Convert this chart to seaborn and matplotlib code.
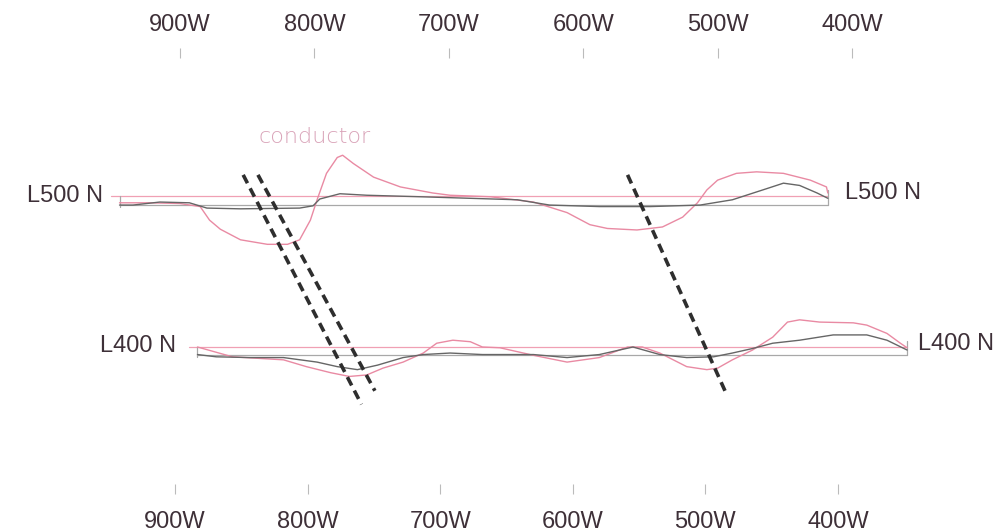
import numpy as np
import pandas as pd
import seaborn as sns
import matplotlib.pyplot as plt

sns.set_style('white')
plt.rcParams['font.family'] = ['Liberation Sans', 'DejaVu Sans']

# survey stations (W) and their labels
stations = [900, 800, 700, 600, 500, 400]
station_labels = ['900W', '800W', '700W', '600W', '500W', '400W']

# survey lines
line_names = ['L500 N', 'L400 N']
line_north = [500, 400]
line_start = [945, 887]
line_end = [418, 359]
quad_zero = [-6, -5]

# L500 N profile (in-phase = pink, quadrature = dark)
l500_ip_w = [945, 922, 900, 885, 878, 870, 855, 835, 820, 811, 803, 798, 791, 783, 779, 771,
             756, 736, 712, 699, 669, 637, 612, 595, 582, 560, 541, 526, 515, 508, 500, 486,
             471, 451, 431, 419, 418]
l500_ip = [-4.5, -4.5, -5, -7, -16, -22, -29, -32, -32, -29, -16, -2.5, 15, 25.5, 27, 21.5,
           12.5, 6, 2, 0.5, -0.5, -4, -11, -19, -21.5, -22.5, -20.5, -14, -4.5, 4, 10.5, 15,
           16, 15, 10.5, 6, 2]
l500_qd_w = [945, 935, 915, 893, 880, 855, 811, 801, 796, 781, 761, 721, 649, 625, 588, 550,
             513, 489, 463, 451, 439, 426, 418]
l500_qd = [-6, -6, -4, -4.5, -8, -8.5, -8, -6.5, -2, 1.5, 0.5, -0.5, -2.5, -6, -7, -7,
           -6, -2.5, 5, 8.5, 7, 2, -1.5]

# L400 N profile
l400_ip_w = [887, 873, 861, 823, 806, 788, 774, 761, 749, 734, 719, 709, 697, 684, 675, 662,
             637, 612, 588, 567, 556, 543, 523, 508, 500, 489, 474, 459, 448, 439, 424, 399,
             389, 374, 364, 359]
l400_ip = [0, -3.5, -6.5, -8.5, -13, -17, -19.5, -18.5, -14, -10, -4, 2.5, 4.5, 3.5, 0, -0.5,
           -5.5, -10, -7, 0, 0, -4, -13, -15, -14, -8.5, -2, 6.5, 16.5, 18, 16.5, 16,
           14.5, 9, 2.5, -0.5]
l400_qd_w = [887, 873, 848, 823, 798, 783, 768, 753, 734, 719, 699, 675, 637, 612, 588, 563,
             543, 523, 503, 489, 474, 459, 439, 414, 389, 374, 359]
l400_qd = [-5, -6.5, -7, -7, -10, -13, -15, -12, -7, -5, -4, -5, -5, -7, -5, 0,
           -5, -7, -6.5, -4, -1, 2.5, 4.5, 8, 8, 4.5, -2]

# conductor axes (dashed)
cond_top_w = [853, 842, 567]
cond_top_y = [514, 514, 514]
cond_bot_w = [765, 755, 494]
cond_bot_y = [362, 371, 370]

profiles = {
    ('L500 N', 'inphase'): (l500_ip_w, l500_ip),
    ('L500 N', 'quad'): (l500_qd_w, l500_qd),
    ('L400 N', 'inphase'): (l400_ip_w, l400_ip),
    ('L400 N', 'quad'): (l400_qd_w, l400_qd),
}
rows = []
for (name, trace), (w, v) in profiles.items():
    north = line_north[line_names.index(name)]
    for wi, vi in zip(w, v):
        rows.append({'line': name, 'trace': trace, 'station': wi, 'y': north + vi})
df = pd.DataFrame(rows)

fig = plt.figure(figsize=(10.05, 5.31), dpi=100)
ax = fig.add_axes([0, 37 / 531, 1, 446 / 531])

pink = '#e98aa3'
dark = '#666666'
grey = '#a8a8a8'

# baseline boxes
for name, n, s, e, q in zip(line_names, line_north, line_start, line_end, quad_zero):
    ax.plot([s + 6, e], [n, n], color='#f0a0b4', lw=0.9)
    ax.plot([s, e], [n + q, n + q], color=grey, lw=0.9)
    ax.plot([s, s], [n, n + q - 1.5], color=grey, lw=0.9)
    ax.plot([e, e], [n + 4, n + q], color=grey, lw=0.9)

sns.lineplot(data=df, x='station', y='y', hue='trace', units='line', estimator=None,
             sort=False, palette={'inphase': pink, 'quad': dark}, legend=False,
             lw=1.0, ax=ax)

for tw, ty, bw, by in zip(cond_top_w, cond_top_y, cond_bot_w, cond_bot_y):
    ax.plot([tw, bw], [ty, by], color='#2e2e2e', lw=2.6, dashes=(2.6, 1.6),
            solid_capstyle='butt', dash_capstyle='butt')

ax.set_xlim(900 + 180 / 1.344, 900 - 825 / 1.344)
ax.set_ylim(500 - 298 / 1.51, 500 + 148 / 1.51)
ax.set_xlabel('')
ax.set_ylabel('')
ax.set_yticks([])
for sp in ax.spines.values():
    sp.set_visible(False)

lab_col = '#3e3038'
ax.xaxis.tick_top()
ax.set_xticks(stations, station_labels)
ax.tick_params(axis='x', direction='in', length=7, width=0.8, color='#bbbbbb',
               pad=9, labelsize=17, labelcolor=lab_col)


def fwd(w):
    w = np.asarray(w, dtype=float)
    return 900 - (5 + 1.344 * (900 - w)) / 1.326


def inv(w):
    w = np.asarray(w, dtype=float)
    return 900 - (1.326 * (900 - w) - 5) / 1.344


sec = ax.secondary_xaxis('bottom', functions=(fwd, inv))
sec.set_xticks(stations, station_labels)
sec.tick_params(axis='x', direction='in', length=7, width=0.8, color='#bbbbbb',
                pad=12, labelsize=17, labelcolor=lab_col)
for sp in sec.spines.values():
    sp.set_visible(False)

# line labels
ax.text(957, 500, 'L500 N', ha='right', va='center', fontsize=17, color=lab_col)
ax.text(405, 502, 'L500 N', ha='left', va='center', fontsize=17, color=lab_col)
ax.text(903, 400.5, 'L400 N', ha='right', va='center', fontsize=17, color=lab_col)
ax.text(351, 402, 'L400 N', ha='left', va='center', fontsize=17, color=lab_col, clip_on=False)
ax.text(800, 539, 'conductor', ha='center', va='center',
        fontsize=16, color='#d9a3b8', family=['DejaVu Sans'], fontweight='light')

fig.savefig('out.png', dpi=100)
